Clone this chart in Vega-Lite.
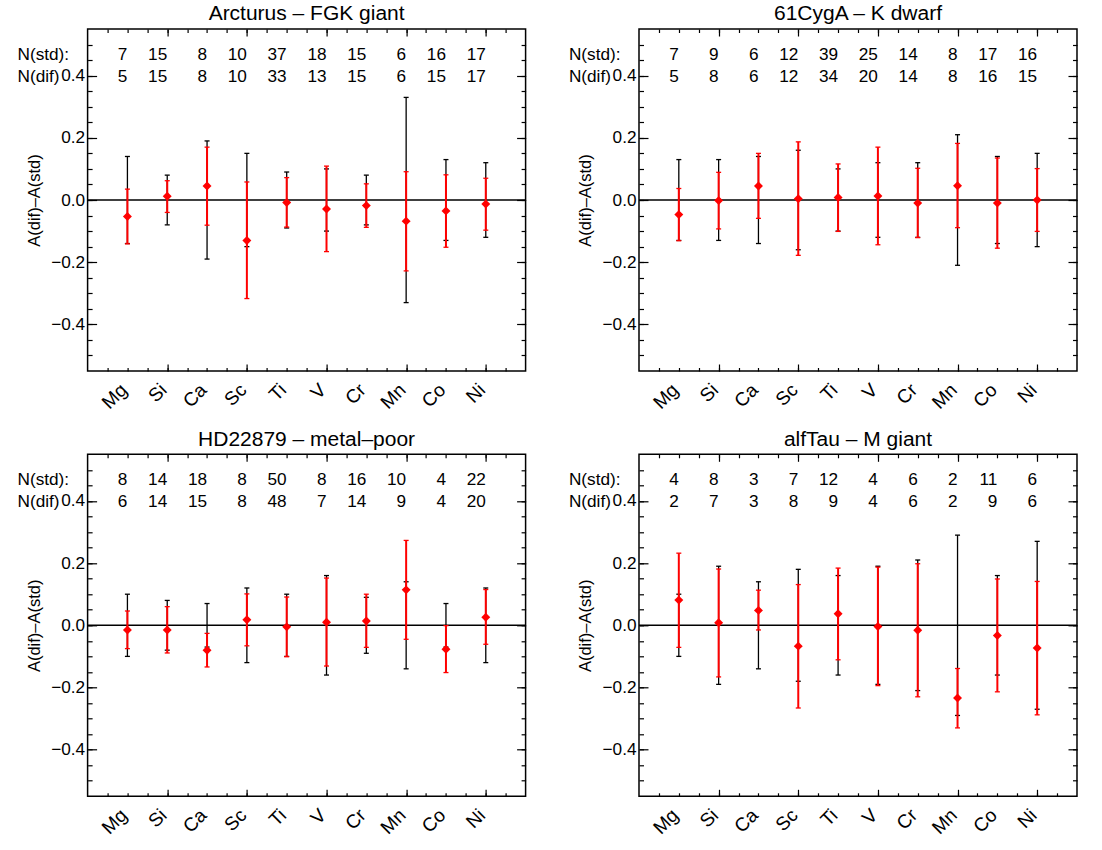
{
"$schema":"https://vega.github.io/schema/vega-lite/v6.json",
"padding":{"left":16.6,"top":2,"right":5,"bottom":5},
"background":"white",
"bounds":"flush",
"columns":2,
"spacing":{"row":83.3,"column":113.4},
"data":{"values":[
{"star":"Arcturus","el":1,"slo":-0.14,"shi":0.14,"dif":-0.053,"dlo":-0.141,"dhi":0.035,"nstd":7,"ndif":5},
{"star":"Arcturus","el":2,"slo":-0.08,"shi":0.08,"dif":0.012,"dlo":-0.040,"dhi":0.062,"nstd":15,"ndif":15},
{"star":"Arcturus","el":3,"slo":-0.19,"shi":0.19,"dif":0.045,"dlo":-0.081,"dhi":0.170,"nstd":8,"ndif":8},
{"star":"Arcturus","el":4,"slo":-0.15,"shi":0.15,"dif":-0.130,"dlo":-0.317,"dhi":0.058,"nstd":10,"ndif":10},
{"star":"Arcturus","el":5,"slo":-0.09,"shi":0.09,"dif":-0.008,"dlo":-0.087,"dhi":0.072,"nstd":37,"ndif":33},
{"star":"Arcturus","el":6,"slo":-0.10,"shi":0.10,"dif":-0.029,"dlo":-0.166,"dhi":0.109,"nstd":18,"ndif":13},
{"star":"Arcturus","el":7,"slo":-0.08,"shi":0.08,"dif":-0.018,"dlo":-0.088,"dhi":0.052,"nstd":15,"ndif":15},
{"star":"Arcturus","el":8,"slo":-0.33,"shi":0.33,"dif":-0.068,"dlo":-0.228,"dhi":0.091,"nstd":6,"ndif":6},
{"star":"Arcturus","el":9,"slo":-0.13,"shi":0.13,"dif":-0.035,"dlo":-0.152,"dhi":0.081,"nstd":16,"ndif":15},
{"star":"Arcturus","el":10,"slo":-0.12,"shi":0.12,"dif":-0.013,"dlo":-0.097,"dhi":0.070,"nstd":17,"ndif":17},
{"star":"61CygA","el":1,"slo":-0.13,"shi":0.13,"dif":-0.047,"dlo":-0.131,"dhi":0.037,"nstd":7,"ndif":5},
{"star":"61CygA","el":2,"slo":-0.13,"shi":0.13,"dif":-0.002,"dlo":-0.093,"dhi":0.089,"nstd":9,"ndif":8},
{"star":"61CygA","el":3,"slo":-0.14,"shi":0.14,"dif":0.045,"dlo":-0.059,"dhi":0.150,"nstd":6,"ndif":6},
{"star":"61CygA","el":4,"slo":-0.16,"shi":0.16,"dif":0.004,"dlo":-0.178,"dhi":0.187,"nstd":12,"ndif":12},
{"star":"61CygA","el":5,"slo":-0.10,"shi":0.10,"dif":0.008,"dlo":-0.101,"dhi":0.116,"nstd":39,"ndif":34},
{"star":"61CygA","el":6,"slo":-0.12,"shi":0.12,"dif":0.013,"dlo":-0.144,"dhi":0.170,"nstd":25,"ndif":20},
{"star":"61CygA","el":7,"slo":-0.12,"shi":0.12,"dif":-0.010,"dlo":-0.121,"dhi":0.102,"nstd":14,"ndif":14},
{"star":"61CygA","el":8,"slo":-0.21,"shi":0.21,"dif":0.046,"dlo":-0.089,"dhi":0.182,"nstd":8,"ndif":8},
{"star":"61CygA","el":9,"slo":-0.14,"shi":0.14,"dif":-0.010,"dlo":-0.155,"dhi":0.135,"nstd":17,"ndif":16},
{"star":"61CygA","el":10,"slo":-0.15,"shi":0.15,"dif":0.000,"dlo":-0.101,"dhi":0.101,"nstd":16,"ndif":15},
{"star":"HD22879","el":1,"slo":-0.10,"shi":0.10,"dif":-0.015,"dlo":-0.075,"dhi":0.046,"nstd":8,"ndif":6},
{"star":"HD22879","el":2,"slo":-0.08,"shi":0.08,"dif":-0.015,"dlo":-0.089,"dhi":0.060,"nstd":14,"ndif":14},
{"star":"HD22879","el":3,"slo":-0.07,"shi":0.07,"dif":-0.080,"dlo":-0.134,"dhi":-0.026,"nstd":18,"ndif":15},
{"star":"HD22879","el":4,"slo":-0.12,"shi":0.12,"dif":0.018,"dlo":-0.066,"dhi":0.101,"nstd":8,"ndif":8},
{"star":"HD22879","el":5,"slo":-0.10,"shi":0.10,"dif":-0.005,"dlo":-0.101,"dhi":0.091,"nstd":50,"ndif":48},
{"star":"HD22879","el":6,"slo":-0.16,"shi":0.16,"dif":0.010,"dlo":-0.131,"dhi":0.152,"nstd":8,"ndif":7},
{"star":"HD22879","el":7,"slo":-0.09,"shi":0.09,"dif":0.014,"dlo":-0.071,"dhi":0.100,"nstd":16,"ndif":14},
{"star":"HD22879","el":8,"slo":-0.14,"shi":0.14,"dif":0.114,"dlo":-0.045,"dhi":0.273,"nstd":10,"ndif":9},
{"star":"HD22879","el":9,"slo":-0.07,"shi":0.07,"dif":-0.077,"dlo":-0.152,"dhi":-0.001,"nstd":4,"ndif":4},
{"star":"HD22879","el":10,"slo":-0.12,"shi":0.12,"dif":0.026,"dlo":-0.061,"dhi":0.115,"nstd":22,"ndif":20},
{"star":"alfTau","el":1,"slo":-0.10,"shi":0.10,"dif":0.081,"dlo":-0.071,"dhi":0.232,"nstd":4,"ndif":2},
{"star":"alfTau","el":2,"slo":-0.19,"shi":0.19,"dif":0.008,"dlo":-0.166,"dhi":0.181,"nstd":8,"ndif":7},
{"star":"alfTau","el":3,"slo":-0.14,"shi":0.14,"dif":0.048,"dlo":-0.015,"dhi":0.113,"nstd":3,"ndif":3},
{"star":"alfTau","el":4,"slo":-0.18,"shi":0.18,"dif":-0.067,"dlo":-0.266,"dhi":0.131,"nstd":7,"ndif":8},
{"star":"alfTau","el":5,"slo":-0.16,"shi":0.16,"dif":0.037,"dlo":-0.111,"dhi":0.184,"nstd":12,"ndif":9},
{"star":"alfTau","el":6,"slo":-0.19,"shi":0.19,"dif":-0.004,"dlo":-0.194,"dhi":0.187,"nstd":4,"ndif":4},
{"star":"alfTau","el":7,"slo":-0.21,"shi":0.21,"dif":-0.016,"dlo":-0.230,"dhi":0.198,"nstd":6,"ndif":6},
{"star":"alfTau","el":8,"slo":-0.29,"shi":0.29,"dif":-0.234,"dlo":-0.330,"dhi":-0.139,"nstd":2,"ndif":2},
{"star":"alfTau","el":9,"slo":-0.16,"shi":0.16,"dif":-0.033,"dlo":-0.214,"dhi":0.149,"nstd":11,"ndif":9},
{"star":"alfTau","el":10,"slo":-0.27,"shi":0.27,"dif":-0.073,"dlo":-0.288,"dhi":0.141,"nstd":6,"ndif":6}
]},
"concat":[
{"title":"Arcturus – FGK giant","width":438,"height":342,
"transform":[{"filter":"datum.star == 'Arcturus'"}],
"resolve":{"axis":{"x":"independent","y":"independent"}},
"layer":[
{"transform":[{"filter":"datum.el == 1"}],"mark":{"type":"rule","color":"black","strokeWidth":1.5},"encoding":{"y":{"datum":0,"type":"quantitative","scale":{"domain":[-0.55,0.55],"nice":false,"zero":false},"axis":null}}},
{"mark":{"type":"rule","color":"black","strokeWidth":1.3},"encoding":{"x":{"field":"el","type":"quantitative","scale":{"domain":[0,11],"nice":false,"zero":false},"axis":{"orient":"bottom","values":[2,4,6,8,10],"tickSize":-7,"labels":false,"title":null}},"y":{"field":"slo","type":"quantitative","scale":{"domain":[-0.55,0.55],"nice":false,"zero":false},"axis":{"orient":"left","values":[-0.4,-0.2,0,0.2,0.4],"tickSize":-9,"labels":false,"title":null}},"y2":{"field":"shi"}}},
{"mark":{"type":"tick","orient":"horizontal","color":"black","size":5,"thickness":1.3,"opacity":1},"encoding":{"x":{"field":"el","type":"quantitative","scale":{"domain":[0,11],"nice":false,"zero":false},"axis":{"orient":"bottom","values":[0.5,1,1.5,2,2.5,3,3.5,4,4.5,5,5.5,6,6.5,7,7.5,8,8.5,9,9.5,10,10.5],"tickSize":-3.5,"labels":false,"title":null}},"y":{"field":"slo","type":"quantitative","scale":{"domain":[-0.55,0.55],"nice":false,"zero":false},"axis":{"orient":"left","values":[-0.5,-0.45,-0.4,-0.35,-0.3,-0.25,-0.2,-0.15,-0.1,-0.05,0,0.05,0.1,0.15,0.2,0.25,0.3,0.35,0.4,0.45,0.5],"tickSize":-4.5,"labels":false,"title":null}}}},
{"mark":{"type":"tick","orient":"horizontal","color":"black","size":5,"thickness":1.3,"opacity":1},"encoding":{"x":{"field":"el","type":"quantitative","scale":{"domain":[0,11],"nice":false,"zero":false},"axis":{"orient":"top","values":[2,4,6,8,10],"tickSize":-7,"labels":false,"title":null}},"y":{"field":"shi","type":"quantitative","scale":{"domain":[-0.55,0.55],"nice":false,"zero":false},"axis":{"orient":"right","values":[-0.4,-0.2,0,0.2,0.4],"tickSize":-9,"labels":false,"title":null}}}},
{"mark":{"type":"rule","color":"#ff0000","strokeWidth":2},"encoding":{"x":{"field":"el","type":"quantitative","scale":{"domain":[0,11],"nice":false,"zero":false},"axis":{"orient":"top","values":[0.5,1,1.5,2,2.5,3,3.5,4,4.5,5,5.5,6,6.5,7,7.5,8,8.5,9,9.5,10,10.5],"tickSize":-3.5,"labels":false,"title":null}},"y":{"field":"dlo","type":"quantitative","scale":{"domain":[-0.55,0.55],"nice":false,"zero":false},"axis":{"orient":"right","values":[-0.5,-0.45,-0.4,-0.35,-0.3,-0.25,-0.2,-0.15,-0.1,-0.05,0,0.05,0.1,0.15,0.2,0.25,0.3,0.35,0.4,0.45,0.5],"tickSize":-4.5,"labels":false,"title":null}},"y2":{"field":"dhi"}}},
{"mark":{"type":"tick","orient":"horizontal","color":"#ff0000","size":5,"thickness":1.3,"opacity":1},"encoding":{"x":{"field":"el","type":"quantitative","scale":{"domain":[0,11],"nice":false,"zero":false},"axis":{"orient":"bottom","values":[1,2,3,4,5,6,7,8,9,10],"ticks":false,"labelExpr":"['','Mg','Si','Ca','Sc','Ti','V','Cr','Mn','Co','Ni'][datum.value]","labelAngle":-45,"labelBaseline":"middle","labelAlign":"right","labelFontSize":19,"labelPadding":15.6,"labelOffset":-4,"labelOverlap":false,"labelFlush":false,"labelBound":false,"title":null}},"y":{"field":"dlo","type":"quantitative","scale":{"domain":[-0.55,0.55],"nice":false,"zero":false},"axis":{"orient":"left","values":[-0.4,-0.2,0,0.2,0.4],"format":".1f","ticks":false,"labelPadding":3,"labelOverlap":false,"labelFlush":false,"title":"A(dif)–A(std)","titlePadding":8.6}}}},
{"mark":{"type":"tick","orient":"horizontal","color":"#ff0000","size":5,"thickness":1.3,"opacity":1},"encoding":{"x":{"field":"el","type":"quantitative","scale":{"domain":[0,11],"nice":false,"zero":false},"axis":null},"y":{"field":"dhi","type":"quantitative","scale":{"domain":[-0.55,0.55],"nice":false,"zero":false},"axis":null}}},
{"mark":{"type":"point","shape":"diamond","filled":true,"color":"#ff0000","size":80,"opacity":1,"strokeWidth":0},"encoding":{"x":{"field":"el","type":"quantitative","scale":{"domain":[0,11],"nice":false,"zero":false},"axis":null},"y":{"field":"dif","type":"quantitative","scale":{"domain":[-0.55,0.55],"nice":false,"zero":false},"axis":null}}},
{"mark":{"type":"text","align":"right","baseline":"middle","fontSize":17.2,"color":"black"},"encoding":{"x":{"field":"el","type":"quantitative","scale":{"domain":[0,11],"nice":false,"zero":false},"axis":null},"y":{"datum":0.466,"type":"quantitative","scale":{"domain":[-0.55,0.55],"nice":false,"zero":false},"axis":null},"text":{"field":"nstd","type":"nominal"}}},
{"mark":{"type":"text","align":"right","baseline":"middle","fontSize":17.2,"color":"black"},"encoding":{"x":{"field":"el","type":"quantitative","scale":{"domain":[0,11],"nice":false,"zero":false},"axis":null},"y":{"datum":0.396,"type":"quantitative","scale":{"domain":[-0.55,0.55],"nice":false,"zero":false},"axis":null},"text":{"field":"ndif","type":"nominal"}}},
{"transform":[{"filter":"datum.el == 1"}],"mark":{"type":"text","text":"N(std):","align":"left","baseline":"middle","fontSize":17.2,"color":"black"},"encoding":{"x":{"datum":-1.76,"type":"quantitative","scale":{"domain":[0,11],"nice":false,"zero":false},"axis":null},"y":{"datum":0.466,"type":"quantitative","scale":{"domain":[-0.55,0.55],"nice":false,"zero":false},"axis":null}}},
{"transform":[{"filter":"datum.el == 1"}],"mark":{"type":"text","text":"N(dif)","align":"left","baseline":"middle","fontSize":17.2,"color":"black"},"encoding":{"x":{"datum":-1.76,"type":"quantitative","scale":{"domain":[0,11],"nice":false,"zero":false},"axis":null},"y":{"datum":0.396,"type":"quantitative","scale":{"domain":[-0.55,0.55],"nice":false,"zero":false},"axis":null}}}
]},
{"title":"61CygA – K dwarf","width":438,"height":342,
"transform":[{"filter":"datum.star == '61CygA'"}],
"resolve":{"axis":{"x":"independent","y":"independent"}},
"layer":[
{"transform":[{"filter":"datum.el == 1"}],"mark":{"type":"rule","color":"black","strokeWidth":1.5},"encoding":{"y":{"datum":0,"type":"quantitative","scale":{"domain":[-0.55,0.55],"nice":false,"zero":false},"axis":null}}},
{"mark":{"type":"rule","color":"black","strokeWidth":1.3},"encoding":{"x":{"field":"el","type":"quantitative","scale":{"domain":[0,11],"nice":false,"zero":false},"axis":{"orient":"bottom","values":[2,4,6,8,10],"tickSize":-7,"labels":false,"title":null}},"y":{"field":"slo","type":"quantitative","scale":{"domain":[-0.55,0.55],"nice":false,"zero":false},"axis":{"orient":"left","values":[-0.4,-0.2,0,0.2,0.4],"tickSize":-9,"labels":false,"title":null}},"y2":{"field":"shi"}}},
{"mark":{"type":"tick","orient":"horizontal","color":"black","size":5,"thickness":1.3,"opacity":1},"encoding":{"x":{"field":"el","type":"quantitative","scale":{"domain":[0,11],"nice":false,"zero":false},"axis":{"orient":"bottom","values":[0.5,1,1.5,2,2.5,3,3.5,4,4.5,5,5.5,6,6.5,7,7.5,8,8.5,9,9.5,10,10.5],"tickSize":-3.5,"labels":false,"title":null}},"y":{"field":"slo","type":"quantitative","scale":{"domain":[-0.55,0.55],"nice":false,"zero":false},"axis":{"orient":"left","values":[-0.5,-0.45,-0.4,-0.35,-0.3,-0.25,-0.2,-0.15,-0.1,-0.05,0,0.05,0.1,0.15,0.2,0.25,0.3,0.35,0.4,0.45,0.5],"tickSize":-4.5,"labels":false,"title":null}}}},
{"mark":{"type":"tick","orient":"horizontal","color":"black","size":5,"thickness":1.3,"opacity":1},"encoding":{"x":{"field":"el","type":"quantitative","scale":{"domain":[0,11],"nice":false,"zero":false},"axis":{"orient":"top","values":[2,4,6,8,10],"tickSize":-7,"labels":false,"title":null}},"y":{"field":"shi","type":"quantitative","scale":{"domain":[-0.55,0.55],"nice":false,"zero":false},"axis":{"orient":"right","values":[-0.4,-0.2,0,0.2,0.4],"tickSize":-9,"labels":false,"title":null}}}},
{"mark":{"type":"rule","color":"#ff0000","strokeWidth":2},"encoding":{"x":{"field":"el","type":"quantitative","scale":{"domain":[0,11],"nice":false,"zero":false},"axis":{"orient":"top","values":[0.5,1,1.5,2,2.5,3,3.5,4,4.5,5,5.5,6,6.5,7,7.5,8,8.5,9,9.5,10,10.5],"tickSize":-3.5,"labels":false,"title":null}},"y":{"field":"dlo","type":"quantitative","scale":{"domain":[-0.55,0.55],"nice":false,"zero":false},"axis":{"orient":"right","values":[-0.5,-0.45,-0.4,-0.35,-0.3,-0.25,-0.2,-0.15,-0.1,-0.05,0,0.05,0.1,0.15,0.2,0.25,0.3,0.35,0.4,0.45,0.5],"tickSize":-4.5,"labels":false,"title":null}},"y2":{"field":"dhi"}}},
{"mark":{"type":"tick","orient":"horizontal","color":"#ff0000","size":5,"thickness":1.3,"opacity":1},"encoding":{"x":{"field":"el","type":"quantitative","scale":{"domain":[0,11],"nice":false,"zero":false},"axis":{"orient":"bottom","values":[1,2,3,4,5,6,7,8,9,10],"ticks":false,"labelExpr":"['','Mg','Si','Ca','Sc','Ti','V','Cr','Mn','Co','Ni'][datum.value]","labelAngle":-45,"labelBaseline":"middle","labelAlign":"right","labelFontSize":19,"labelPadding":15.6,"labelOffset":-4,"labelOverlap":false,"labelFlush":false,"labelBound":false,"title":null}},"y":{"field":"dlo","type":"quantitative","scale":{"domain":[-0.55,0.55],"nice":false,"zero":false},"axis":{"orient":"left","values":[-0.4,-0.2,0,0.2,0.4],"format":".1f","ticks":false,"labelPadding":3,"labelOverlap":false,"labelFlush":false,"title":"A(dif)–A(std)","titlePadding":8.6}}}},
{"mark":{"type":"tick","orient":"horizontal","color":"#ff0000","size":5,"thickness":1.3,"opacity":1},"encoding":{"x":{"field":"el","type":"quantitative","scale":{"domain":[0,11],"nice":false,"zero":false},"axis":null},"y":{"field":"dhi","type":"quantitative","scale":{"domain":[-0.55,0.55],"nice":false,"zero":false},"axis":null}}},
{"mark":{"type":"point","shape":"diamond","filled":true,"color":"#ff0000","size":80,"opacity":1,"strokeWidth":0},"encoding":{"x":{"field":"el","type":"quantitative","scale":{"domain":[0,11],"nice":false,"zero":false},"axis":null},"y":{"field":"dif","type":"quantitative","scale":{"domain":[-0.55,0.55],"nice":false,"zero":false},"axis":null}}},
{"mark":{"type":"text","align":"right","baseline":"middle","fontSize":17.2,"color":"black"},"encoding":{"x":{"field":"el","type":"quantitative","scale":{"domain":[0,11],"nice":false,"zero":false},"axis":null},"y":{"datum":0.466,"type":"quantitative","scale":{"domain":[-0.55,0.55],"nice":false,"zero":false},"axis":null},"text":{"field":"nstd","type":"nominal"}}},
{"mark":{"type":"text","align":"right","baseline":"middle","fontSize":17.2,"color":"black"},"encoding":{"x":{"field":"el","type":"quantitative","scale":{"domain":[0,11],"nice":false,"zero":false},"axis":null},"y":{"datum":0.396,"type":"quantitative","scale":{"domain":[-0.55,0.55],"nice":false,"zero":false},"axis":null},"text":{"field":"ndif","type":"nominal"}}},
{"transform":[{"filter":"datum.el == 1"}],"mark":{"type":"text","text":"N(std):","align":"left","baseline":"middle","fontSize":17.2,"color":"black"},"encoding":{"x":{"datum":-1.76,"type":"quantitative","scale":{"domain":[0,11],"nice":false,"zero":false},"axis":null},"y":{"datum":0.466,"type":"quantitative","scale":{"domain":[-0.55,0.55],"nice":false,"zero":false},"axis":null}}},
{"transform":[{"filter":"datum.el == 1"}],"mark":{"type":"text","text":"N(dif)","align":"left","baseline":"middle","fontSize":17.2,"color":"black"},"encoding":{"x":{"datum":-1.76,"type":"quantitative","scale":{"domain":[0,11],"nice":false,"zero":false},"axis":null},"y":{"datum":0.396,"type":"quantitative","scale":{"domain":[-0.55,0.55],"nice":false,"zero":false},"axis":null}}}
]},
{"title":"HD22879 – metal–poor","width":438,"height":342,
"transform":[{"filter":"datum.star == 'HD22879'"}],
"resolve":{"axis":{"x":"independent","y":"independent"}},
"layer":[
{"transform":[{"filter":"datum.el == 1"}],"mark":{"type":"rule","color":"black","strokeWidth":1.5},"encoding":{"y":{"datum":0,"type":"quantitative","scale":{"domain":[-0.55,0.55],"nice":false,"zero":false},"axis":null}}},
{"mark":{"type":"rule","color":"black","strokeWidth":1.3},"encoding":{"x":{"field":"el","type":"quantitative","scale":{"domain":[0,11],"nice":false,"zero":false},"axis":{"orient":"bottom","values":[2,4,6,8,10],"tickSize":-7,"labels":false,"title":null}},"y":{"field":"slo","type":"quantitative","scale":{"domain":[-0.55,0.55],"nice":false,"zero":false},"axis":{"orient":"left","values":[-0.4,-0.2,0,0.2,0.4],"tickSize":-9,"labels":false,"title":null}},"y2":{"field":"shi"}}},
{"mark":{"type":"tick","orient":"horizontal","color":"black","size":5,"thickness":1.3,"opacity":1},"encoding":{"x":{"field":"el","type":"quantitative","scale":{"domain":[0,11],"nice":false,"zero":false},"axis":{"orient":"bottom","values":[0.5,1,1.5,2,2.5,3,3.5,4,4.5,5,5.5,6,6.5,7,7.5,8,8.5,9,9.5,10,10.5],"tickSize":-3.5,"labels":false,"title":null}},"y":{"field":"slo","type":"quantitative","scale":{"domain":[-0.55,0.55],"nice":false,"zero":false},"axis":{"orient":"left","values":[-0.5,-0.45,-0.4,-0.35,-0.3,-0.25,-0.2,-0.15,-0.1,-0.05,0,0.05,0.1,0.15,0.2,0.25,0.3,0.35,0.4,0.45,0.5],"tickSize":-4.5,"labels":false,"title":null}}}},
{"mark":{"type":"tick","orient":"horizontal","color":"black","size":5,"thickness":1.3,"opacity":1},"encoding":{"x":{"field":"el","type":"quantitative","scale":{"domain":[0,11],"nice":false,"zero":false},"axis":{"orient":"top","values":[2,4,6,8,10],"tickSize":-7,"labels":false,"title":null}},"y":{"field":"shi","type":"quantitative","scale":{"domain":[-0.55,0.55],"nice":false,"zero":false},"axis":{"orient":"right","values":[-0.4,-0.2,0,0.2,0.4],"tickSize":-9,"labels":false,"title":null}}}},
{"mark":{"type":"rule","color":"#ff0000","strokeWidth":2},"encoding":{"x":{"field":"el","type":"quantitative","scale":{"domain":[0,11],"nice":false,"zero":false},"axis":{"orient":"top","values":[0.5,1,1.5,2,2.5,3,3.5,4,4.5,5,5.5,6,6.5,7,7.5,8,8.5,9,9.5,10,10.5],"tickSize":-3.5,"labels":false,"title":null}},"y":{"field":"dlo","type":"quantitative","scale":{"domain":[-0.55,0.55],"nice":false,"zero":false},"axis":{"orient":"right","values":[-0.5,-0.45,-0.4,-0.35,-0.3,-0.25,-0.2,-0.15,-0.1,-0.05,0,0.05,0.1,0.15,0.2,0.25,0.3,0.35,0.4,0.45,0.5],"tickSize":-4.5,"labels":false,"title":null}},"y2":{"field":"dhi"}}},
{"mark":{"type":"tick","orient":"horizontal","color":"#ff0000","size":5,"thickness":1.3,"opacity":1},"encoding":{"x":{"field":"el","type":"quantitative","scale":{"domain":[0,11],"nice":false,"zero":false},"axis":{"orient":"bottom","values":[1,2,3,4,5,6,7,8,9,10],"ticks":false,"labelExpr":"['','Mg','Si','Ca','Sc','Ti','V','Cr','Mn','Co','Ni'][datum.value]","labelAngle":-45,"labelBaseline":"middle","labelAlign":"right","labelFontSize":19,"labelPadding":15.6,"labelOffset":-4,"labelOverlap":false,"labelFlush":false,"labelBound":false,"title":null}},"y":{"field":"dlo","type":"quantitative","scale":{"domain":[-0.55,0.55],"nice":false,"zero":false},"axis":{"orient":"left","values":[-0.4,-0.2,0,0.2,0.4],"format":".1f","ticks":false,"labelPadding":3,"labelOverlap":false,"labelFlush":false,"title":"A(dif)–A(std)","titlePadding":8.6}}}},
{"mark":{"type":"tick","orient":"horizontal","color":"#ff0000","size":5,"thickness":1.3,"opacity":1},"encoding":{"x":{"field":"el","type":"quantitative","scale":{"domain":[0,11],"nice":false,"zero":false},"axis":null},"y":{"field":"dhi","type":"quantitative","scale":{"domain":[-0.55,0.55],"nice":false,"zero":false},"axis":null}}},
{"mark":{"type":"point","shape":"diamond","filled":true,"color":"#ff0000","size":80,"opacity":1,"strokeWidth":0},"encoding":{"x":{"field":"el","type":"quantitative","scale":{"domain":[0,11],"nice":false,"zero":false},"axis":null},"y":{"field":"dif","type":"quantitative","scale":{"domain":[-0.55,0.55],"nice":false,"zero":false},"axis":null}}},
{"mark":{"type":"text","align":"right","baseline":"middle","fontSize":17.2,"color":"black"},"encoding":{"x":{"field":"el","type":"quantitative","scale":{"domain":[0,11],"nice":false,"zero":false},"axis":null},"y":{"datum":0.466,"type":"quantitative","scale":{"domain":[-0.55,0.55],"nice":false,"zero":false},"axis":null},"text":{"field":"nstd","type":"nominal"}}},
{"mark":{"type":"text","align":"right","baseline":"middle","fontSize":17.2,"color":"black"},"encoding":{"x":{"field":"el","type":"quantitative","scale":{"domain":[0,11],"nice":false,"zero":false},"axis":null},"y":{"datum":0.396,"type":"quantitative","scale":{"domain":[-0.55,0.55],"nice":false,"zero":false},"axis":null},"text":{"field":"ndif","type":"nominal"}}},
{"transform":[{"filter":"datum.el == 1"}],"mark":{"type":"text","text":"N(std):","align":"left","baseline":"middle","fontSize":17.2,"color":"black"},"encoding":{"x":{"datum":-1.76,"type":"quantitative","scale":{"domain":[0,11],"nice":false,"zero":false},"axis":null},"y":{"datum":0.466,"type":"quantitative","scale":{"domain":[-0.55,0.55],"nice":false,"zero":false},"axis":null}}},
{"transform":[{"filter":"datum.el == 1"}],"mark":{"type":"text","text":"N(dif)","align":"left","baseline":"middle","fontSize":17.2,"color":"black"},"encoding":{"x":{"datum":-1.76,"type":"quantitative","scale":{"domain":[0,11],"nice":false,"zero":false},"axis":null},"y":{"datum":0.396,"type":"quantitative","scale":{"domain":[-0.55,0.55],"nice":false,"zero":false},"axis":null}}}
]},
{"title":"alfTau – M giant","width":438,"height":342,
"transform":[{"filter":"datum.star == 'alfTau'"}],
"resolve":{"axis":{"x":"independent","y":"independent"}},
"layer":[
{"transform":[{"filter":"datum.el == 1"}],"mark":{"type":"rule","color":"black","strokeWidth":1.5},"encoding":{"y":{"datum":0,"type":"quantitative","scale":{"domain":[-0.55,0.55],"nice":false,"zero":false},"axis":null}}},
{"mark":{"type":"rule","color":"black","strokeWidth":1.3},"encoding":{"x":{"field":"el","type":"quantitative","scale":{"domain":[0,11],"nice":false,"zero":false},"axis":{"orient":"bottom","values":[2,4,6,8,10],"tickSize":-7,"labels":false,"title":null}},"y":{"field":"slo","type":"quantitative","scale":{"domain":[-0.55,0.55],"nice":false,"zero":false},"axis":{"orient":"left","values":[-0.4,-0.2,0,0.2,0.4],"tickSize":-9,"labels":false,"title":null}},"y2":{"field":"shi"}}},
{"mark":{"type":"tick","orient":"horizontal","color":"black","size":5,"thickness":1.3,"opacity":1},"encoding":{"x":{"field":"el","type":"quantitative","scale":{"domain":[0,11],"nice":false,"zero":false},"axis":{"orient":"bottom","values":[0.5,1,1.5,2,2.5,3,3.5,4,4.5,5,5.5,6,6.5,7,7.5,8,8.5,9,9.5,10,10.5],"tickSize":-3.5,"labels":false,"title":null}},"y":{"field":"slo","type":"quantitative","scale":{"domain":[-0.55,0.55],"nice":false,"zero":false},"axis":{"orient":"left","values":[-0.5,-0.45,-0.4,-0.35,-0.3,-0.25,-0.2,-0.15,-0.1,-0.05,0,0.05,0.1,0.15,0.2,0.25,0.3,0.35,0.4,0.45,0.5],"tickSize":-4.5,"labels":false,"title":null}}}},
{"mark":{"type":"tick","orient":"horizontal","color":"black","size":5,"thickness":1.3,"opacity":1},"encoding":{"x":{"field":"el","type":"quantitative","scale":{"domain":[0,11],"nice":false,"zero":false},"axis":{"orient":"top","values":[2,4,6,8,10],"tickSize":-7,"labels":false,"title":null}},"y":{"field":"shi","type":"quantitative","scale":{"domain":[-0.55,0.55],"nice":false,"zero":false},"axis":{"orient":"right","values":[-0.4,-0.2,0,0.2,0.4],"tickSize":-9,"labels":false,"title":null}}}},
{"mark":{"type":"rule","color":"#ff0000","strokeWidth":2},"encoding":{"x":{"field":"el","type":"quantitative","scale":{"domain":[0,11],"nice":false,"zero":false},"axis":{"orient":"top","values":[0.5,1,1.5,2,2.5,3,3.5,4,4.5,5,5.5,6,6.5,7,7.5,8,8.5,9,9.5,10,10.5],"tickSize":-3.5,"labels":false,"title":null}},"y":{"field":"dlo","type":"quantitative","scale":{"domain":[-0.55,0.55],"nice":false,"zero":false},"axis":{"orient":"right","values":[-0.5,-0.45,-0.4,-0.35,-0.3,-0.25,-0.2,-0.15,-0.1,-0.05,0,0.05,0.1,0.15,0.2,0.25,0.3,0.35,0.4,0.45,0.5],"tickSize":-4.5,"labels":false,"title":null}},"y2":{"field":"dhi"}}},
{"mark":{"type":"tick","orient":"horizontal","color":"#ff0000","size":5,"thickness":1.3,"opacity":1},"encoding":{"x":{"field":"el","type":"quantitative","scale":{"domain":[0,11],"nice":false,"zero":false},"axis":{"orient":"bottom","values":[1,2,3,4,5,6,7,8,9,10],"ticks":false,"labelExpr":"['','Mg','Si','Ca','Sc','Ti','V','Cr','Mn','Co','Ni'][datum.value]","labelAngle":-45,"labelBaseline":"middle","labelAlign":"right","labelFontSize":19,"labelPadding":15.6,"labelOffset":-4,"labelOverlap":false,"labelFlush":false,"labelBound":false,"title":null}},"y":{"field":"dlo","type":"quantitative","scale":{"domain":[-0.55,0.55],"nice":false,"zero":false},"axis":{"orient":"left","values":[-0.4,-0.2,0,0.2,0.4],"format":".1f","ticks":false,"labelPadding":3,"labelOverlap":false,"labelFlush":false,"title":"A(dif)–A(std)","titlePadding":8.6}}}},
{"mark":{"type":"tick","orient":"horizontal","color":"#ff0000","size":5,"thickness":1.3,"opacity":1},"encoding":{"x":{"field":"el","type":"quantitative","scale":{"domain":[0,11],"nice":false,"zero":false},"axis":null},"y":{"field":"dhi","type":"quantitative","scale":{"domain":[-0.55,0.55],"nice":false,"zero":false},"axis":null}}},
{"mark":{"type":"point","shape":"diamond","filled":true,"color":"#ff0000","size":80,"opacity":1,"strokeWidth":0},"encoding":{"x":{"field":"el","type":"quantitative","scale":{"domain":[0,11],"nice":false,"zero":false},"axis":null},"y":{"field":"dif","type":"quantitative","scale":{"domain":[-0.55,0.55],"nice":false,"zero":false},"axis":null}}},
{"mark":{"type":"text","align":"right","baseline":"middle","fontSize":17.2,"color":"black"},"encoding":{"x":{"field":"el","type":"quantitative","scale":{"domain":[0,11],"nice":false,"zero":false},"axis":null},"y":{"datum":0.466,"type":"quantitative","scale":{"domain":[-0.55,0.55],"nice":false,"zero":false},"axis":null},"text":{"field":"nstd","type":"nominal"}}},
{"mark":{"type":"text","align":"right","baseline":"middle","fontSize":17.2,"color":"black"},"encoding":{"x":{"field":"el","type":"quantitative","scale":{"domain":[0,11],"nice":false,"zero":false},"axis":null},"y":{"datum":0.396,"type":"quantitative","scale":{"domain":[-0.55,0.55],"nice":false,"zero":false},"axis":null},"text":{"field":"ndif","type":"nominal"}}},
{"transform":[{"filter":"datum.el == 1"}],"mark":{"type":"text","text":"N(std):","align":"left","baseline":"middle","fontSize":17.2,"color":"black"},"encoding":{"x":{"datum":-1.76,"type":"quantitative","scale":{"domain":[0,11],"nice":false,"zero":false},"axis":null},"y":{"datum":0.466,"type":"quantitative","scale":{"domain":[-0.55,0.55],"nice":false,"zero":false},"axis":null}}},
{"transform":[{"filter":"datum.el == 1"}],"mark":{"type":"text","text":"N(dif)","align":"left","baseline":"middle","fontSize":17.2,"color":"black"},"encoding":{"x":{"datum":-1.76,"type":"quantitative","scale":{"domain":[0,11],"nice":false,"zero":false},"axis":null},"y":{"datum":0.396,"type":"quantitative","scale":{"domain":[-0.55,0.55],"nice":false,"zero":false},"axis":null}}}
]}
],
"config":{
"font":"Liberation Sans",
"view":{"stroke":"black","strokeWidth":1.5},
"axis":{"grid":false,"domain":false,"tickColor":"black","tickWidth":1.2,"labelColor":"black","titleColor":"black","labelFont":"Liberation Sans","titleFont":"Liberation Sans","labelFontSize":17.2,"titleFontSize":16.5,"titleFontWeight":"normal"},
"text":{"font":"Liberation Sans"},
"title":{"font":"Liberation Sans","fontSize":21,"fontWeight":"normal","color":"black","offset":4,"frame":"group","anchor":"middle"}
}
}
